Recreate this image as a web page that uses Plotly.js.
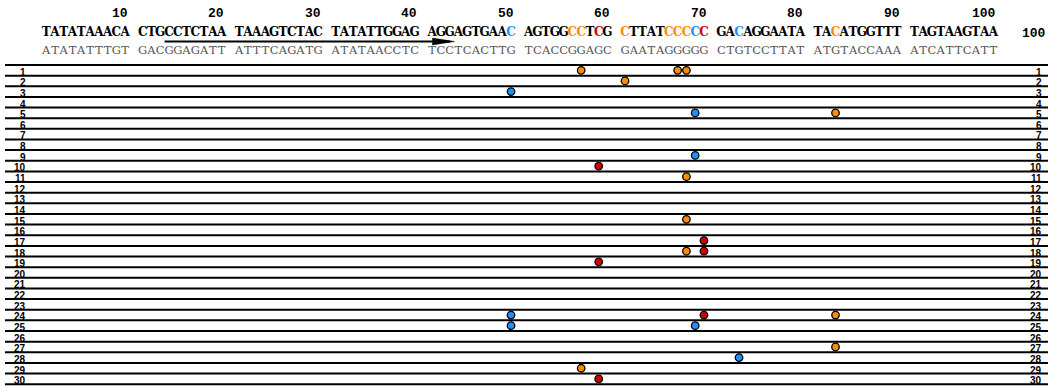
<!DOCTYPE html>
<html><head><meta charset="utf-8">
<script src="https://cdn.plot.ly/plotly-3.0.1.min.js"></script>
<style>html,body{margin:0;padding:0;background:#fff}</style>
</head><body><div id="chart" style="width:1056px;height:392px"></div>
<script>
// ---------------- data ----------------
const topStrand    = "TATATAAACA CTGCCTCTAA TAAAGTCTAC TATATTGGAG AGGAGTGAAC AGTGGCCTCG CTTATCCCCC GACAGGAATA TACATGGTTT TAGTAAGTAA";
const bottomStrand = "ATATATTTGT GACGGAGATT ATTTCAGATG ATATAACCTC TCCTCACTTG TCACCGGAGC GAATAGGGGG CTGTCCTTAT ATGTACCAAA ATCATTCATT";
const positionTicks = [10, 20, 30, 40, 50, 60, 70, 80, 90, 100];
const lineEndLabel = "100";
const siteNumbers = [50, 56, 57, 59, 61, 66, 67, 68, 69, 70, 73, 83];
const siteClasses = ["blue", "orange", "orange", "red", "orange", "orange", "orange", "orange", "blue", "red", "blue", "orange"];
const sampleRows = [1,2,3,4,5,6,7,8,9,10,11,12,13,14,15,16,17,18,19,20,21,22,23,24,25,26,27,28,29,30];
const hitRows      = [1, 1, 1, 2, 3, 5, 5, 9, 10, 11, 15, 17, 18, 18, 19, 24, 24, 24, 25, 25, 27, 28, 29, 30];
const hitPositions = [57, 67, 68, 61, 50, 69, 83, 69, 59, 68, 68, 70, 68, 70, 59, 50, 70, 83, 50, 69, 83, 73, 57, 59];
const primerStart = 14;
const primerEnd = 43;

// ---------------- style / layout helpers ----------------
const classColor = { orange: "#FF8C00", blue: "#1E90FF", red: "#D40000" };
const W = 1056, H = 392;
const X0 = 46.2, DX = 8.77;        // pixel of slot 0, pixels per slot
const Y0 = 65, DY = 10.64;         // pixel of top rule, pixels per row
const slot = p => (p - 1) + Math.floor((p - 1) / 10);
const pxToY = py => 0.5 + (py - Y0) / DY;
const pxToX = px => (px - X0) / DX;

const topChars = topStrand.replace(/ /g, "").split("");
const botChars = bottomStrand.replace(/ /g, "").split("");
const nt = topChars.map((c, i) => i + 1);
const colorOfPos = p => {
  const k = siteNumbers.indexOf(p);
  return k >= 0 ? classColor[siteClasses[k]] : null;
};

const traces = [];
// top strand
traces.push({
  type: "scatter", mode: "text", hoverinfo: "skip",
  x: nt.map(slot), y: nt.map(() => pxToY(33)),
  text: topChars, textposition: "middle center",
  textfont: { family: "DejaVu Serif", size: 12, weight: "bold",
              color: nt.map(p => colorOfPos(p) || "#000000") }
});
// bottom strand
traces.push({
  type: "scatter", mode: "text", hoverinfo: "skip",
  x: nt.map(slot), y: nt.map(() => pxToY(51.5)),
  text: botChars, textposition: "middle center",
  textfont: { family: "DejaVu Serif", size: 11.5, color: "#555555" }
});
// hits
traces.push({
  type: "scatter", mode: "markers", hoverinfo: "skip",
  x: hitPositions.map(slot), y: hitRows,
  marker: { size: 7.5, color: hitPositions.map(colorOfPos),
            line: { color: "#000", width: 1.3 } }
});

const annotations = [];
positionTicks.forEach(p => annotations.push({
  x: slot(p) + 0.55, y: pxToY(13.7), xref: "x", yref: "y",
  xanchor: "right", yanchor: "middle", showarrow: false, text: String(p),
  font: { family: "Liberation Mono", size: 13, weight: "bold", color: "#000" }
}));
annotations.push({
  x: 1048 / W, y: pxToY(33), xref: "paper", yref: "y",
  xanchor: "right", yanchor: "middle", showarrow: false, text: lineEndLabel,
  font: { family: "Liberation Mono", size: 13, weight: "bold", color: "#000" }
});
sampleRows.forEach(r => {
  [26.5 / W, 1042.5 / W].forEach(xp => annotations.push({
    x: xp, y: r + 0.5, xref: "paper", yref: "y",
    xanchor: "right", yanchor: "bottom", yshift: -3, showarrow: false,
    text: String(r), borderpad: 0,
    font: { family: "Liberation Sans", size: 10, weight: "bold", color: "#000" }
  }));
});

const shapes = [];
for (let k = 0; k <= sampleRows.length; k++) {
  shapes.push({ type: "line", layer: "below", xref: "paper", yref: "y",
    x0: 5 / W, x1: 1048 / W, y0: k + 0.5, y1: k + 0.5,
    line: { color: "#000", width: 2 } });
}
// primer underline with arrow
const uy = pxToY(41.5);
const tip = slot(primerEnd) + 0.55;
const base = tip - 2.5;
const hh = 3.4 / DY;
shapes.push({ type: "line", xref: "x", yref: "y",
  x0: slot(primerStart) - 0.5, x1: tip - 0.5, y0: uy, y1: uy,
  line: { color: "#000", width: 2 } });
shapes.push({ type: "path", xref: "x", yref: "y",
  path: `M ${base},${uy - hh} L ${tip},${uy} L ${base},${uy + hh} Z`,
  fillcolor: "#000", line: { color: "#000", width: 0.5 } });

const layout = {
  width: W, height: H, margin: { l: 0, r: 0, t: 0, b: 0 },
  paper_bgcolor: "#fff", plot_bgcolor: "#fff", showlegend: false,
  xaxis: { range: [pxToX(0), pxToX(W)], visible: false, fixedrange: true },
  yaxis: { range: [pxToY(H), pxToY(0)], visible: false, fixedrange: true },
  annotations, shapes
};
Plotly.newPlot("chart", traces, layout, { staticPlot: true, displayModeBar: false });
</script></body></html>
